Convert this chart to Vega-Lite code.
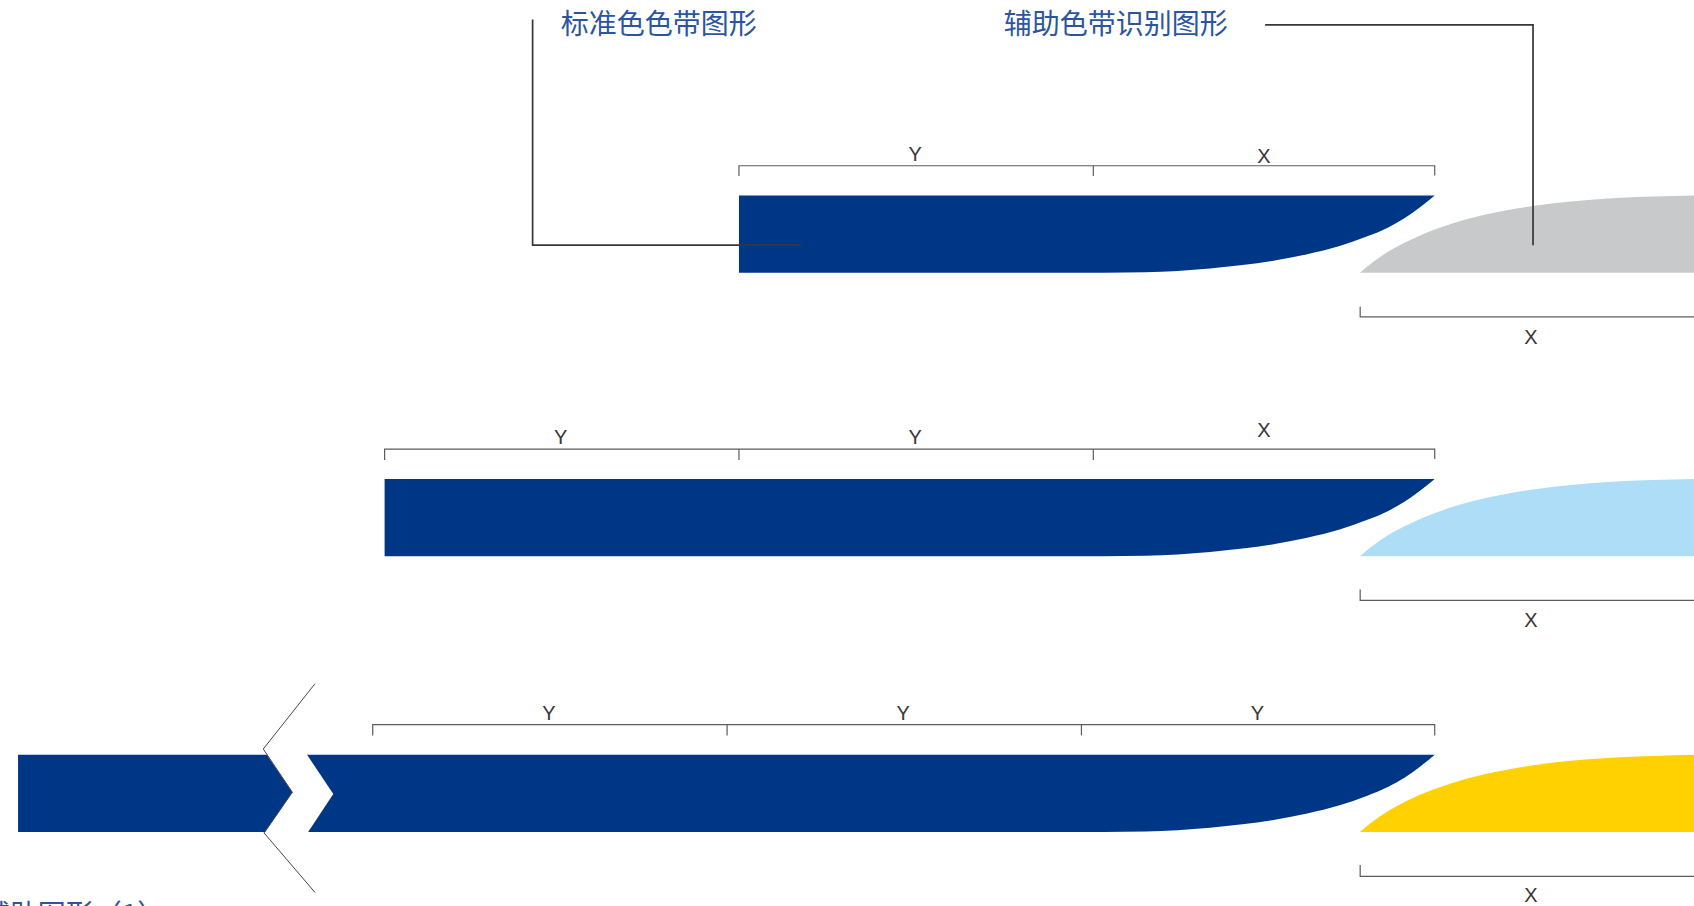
{"$schema":"https://vega.github.io/schema/vega-lite/v6.json","width":1694,"height":906,"autosize":"none","padding":0,"background":"#ffffff","config":{"view":{"stroke":null}},
"datasets":{
"bands":[
{"s":"b1","k":"navy","x":684,"t":181,"b":252.5},{"s":"b1","k":"navy","x":1021,"t":181,"b":252.5},{"s":"b1","k":"navy","x":1060,"t":181,"b":252.1},{"s":"b1","k":"navy","x":1090,"t":181,"b":250.9},{"s":"b1","k":"navy","x":1120,"t":181,"b":248.7},{"s":"b1","k":"navy","x":1150,"t":181,"b":245.5},{"s":"b1","k":"navy","x":1180,"t":181,"b":241.2},{"s":"b1","k":"navy","x":1210,"t":181,"b":235.4},{"s":"b1","k":"navy","x":1240,"t":181,"b":227.8},{"s":"b1","k":"navy","x":1265,"t":181,"b":219.1},{"s":"b1","k":"navy","x":1285,"t":181,"b":210.6},{"s":"b1","k":"navy","x":1300,"t":181,"b":202.2},{"s":"b1","k":"navy","x":1315,"t":181,"b":191.5},{"s":"b1","k":"navy","x":1328,"t":181,"b":181},
{"s":"b2","k":"navy","x":356,"t":443.5,"b":515},{"s":"b2","k":"navy","x":1021,"t":443.5,"b":515},{"s":"b2","k":"navy","x":1060,"t":443.5,"b":514.6},{"s":"b2","k":"navy","x":1090,"t":443.5,"b":513.4},{"s":"b2","k":"navy","x":1120,"t":443.5,"b":511.2},{"s":"b2","k":"navy","x":1150,"t":443.5,"b":508},{"s":"b2","k":"navy","x":1180,"t":443.5,"b":503.7},{"s":"b2","k":"navy","x":1210,"t":443.5,"b":497.9},{"s":"b2","k":"navy","x":1240,"t":443.5,"b":490.3},{"s":"b2","k":"navy","x":1265,"t":443.5,"b":481.6},{"s":"b2","k":"navy","x":1285,"t":443.5,"b":473.1},{"s":"b2","k":"navy","x":1300,"t":443.5,"b":464.7},{"s":"b2","k":"navy","x":1315,"t":443.5,"b":454},{"s":"b2","k":"navy","x":1328,"t":443.5,"b":443.5},
{"s":"b3","k":"navy","x":284,"t":699,"b":770.4},{"s":"b3","k":"navy","x":1021,"t":699,"b":770.4},{"s":"b3","k":"navy","x":1060,"t":699,"b":770},{"s":"b3","k":"navy","x":1090,"t":699,"b":768.8},{"s":"b3","k":"navy","x":1120,"t":699,"b":766.6},{"s":"b3","k":"navy","x":1150,"t":699,"b":763.4},{"s":"b3","k":"navy","x":1180,"t":699,"b":759.1},{"s":"b3","k":"navy","x":1210,"t":699,"b":753.3},{"s":"b3","k":"navy","x":1240,"t":699,"b":745.7},{"s":"b3","k":"navy","x":1265,"t":699,"b":737.1},{"s":"b3","k":"navy","x":1285,"t":699,"b":728.6},{"s":"b3","k":"navy","x":1300,"t":699,"b":720.2},{"s":"b3","k":"navy","x":1315,"t":699,"b":709.5},{"s":"b3","k":"navy","x":1328,"t":699,"b":699},
{"s":"c1","k":"gray","x":1258.8,"t":252.5,"b":252.5},{"s":"c1","k":"gray","x":1270,"t":243.3,"b":252.5},{"s":"c1","k":"gray","x":1285,"t":233,"b":252.5},{"s":"c1","k":"gray","x":1300,"t":224.8,"b":252.5},{"s":"c1","k":"gray","x":1315,"t":217.8,"b":252.5},{"s":"c1","k":"gray","x":1345,"t":206.8,"b":252.5},{"s":"c1","k":"gray","x":1375,"t":198.7,"b":252.5},{"s":"c1","k":"gray","x":1405,"t":192.9,"b":252.5},{"s":"c1","k":"gray","x":1438,"t":188.2,"b":252.5},{"s":"c1","k":"gray","x":1470,"t":185.2,"b":252.5},{"s":"c1","k":"gray","x":1500,"t":183.2,"b":252.5},{"s":"c1","k":"gray","x":1530,"t":182,"b":252.5},{"s":"c1","k":"gray","x":1568,"t":181,"b":252.5},
{"s":"c2","k":"sky","x":1258.8,"t":515,"b":515},{"s":"c2","k":"sky","x":1270,"t":505.8,"b":515},{"s":"c2","k":"sky","x":1285,"t":495.5,"b":515},{"s":"c2","k":"sky","x":1300,"t":487.3,"b":515},{"s":"c2","k":"sky","x":1315,"t":480.3,"b":515},{"s":"c2","k":"sky","x":1345,"t":469.3,"b":515},{"s":"c2","k":"sky","x":1375,"t":461.2,"b":515},{"s":"c2","k":"sky","x":1405,"t":455.4,"b":515},{"s":"c2","k":"sky","x":1438,"t":450.7,"b":515},{"s":"c2","k":"sky","x":1470,"t":447.7,"b":515},{"s":"c2","k":"sky","x":1500,"t":445.7,"b":515},{"s":"c2","k":"sky","x":1530,"t":444.5,"b":515},{"s":"c2","k":"sky","x":1568,"t":443.5,"b":515},
{"s":"c3","k":"gold","x":1258.8,"t":770.4,"b":770.4},{"s":"c3","k":"gold","x":1270,"t":761.3,"b":770.4},{"s":"c3","k":"gold","x":1285,"t":751,"b":770.4},{"s":"c3","k":"gold","x":1300,"t":742.8,"b":770.4},{"s":"c3","k":"gold","x":1315,"t":735.8,"b":770.4},{"s":"c3","k":"gold","x":1345,"t":724.8,"b":770.4},{"s":"c3","k":"gold","x":1375,"t":716.7,"b":770.4},{"s":"c3","k":"gold","x":1405,"t":710.9,"b":770.4},{"s":"c3","k":"gold","x":1438,"t":706.2,"b":770.4},{"s":"c3","k":"gold","x":1470,"t":703.2,"b":770.4},{"s":"c3","k":"gold","x":1500,"t":701.2,"b":770.4},{"s":"c3","k":"gold","x":1530,"t":700,"b":770.4},{"s":"c3","k":"gold","x":1568,"t":699,"b":770.4}
],
"leftpiece":[
{"y":699,"x":16.7,"x2":247},{"y":733.7,"x":16.7,"x2":270.6},{"y":770.4,"x":16.7,"x2":245.5}
],
"notch":[
{"y":698,"x":277,"x2":283.6},{"y":735.2,"x":277,"x2":308.5},{"y":771.5,"x":277,"x2":284.6}
],
"leaders":[
{"id":"a","o":1,"x":493,"y":18},{"id":"a","o":2,"x":493,"y":227},{"id":"a","o":3,"x":742,"y":227},
{"id":"b","o":1,"x":1171,"y":23},{"id":"b","o":2,"x":1419,"y":23},{"id":"b","o":3,"x":1419,"y":227}
],
"brackets":[
{"id":"r1","o":1,"x":684,"y":163},{"id":"r1","o":2,"x":684,"y":153.5},{"id":"r1","o":3,"x":1328,"y":153.5},{"id":"r1","o":4,"x":1328,"y":162.5},
{"id":"r1t","o":1,"x":1012,"y":153.5},{"id":"r1t","o":2,"x":1012,"y":163},
{"id":"r2","o":1,"x":356,"y":426},{"id":"r2","o":2,"x":356,"y":416},{"id":"r2","o":3,"x":1328,"y":416},{"id":"r2","o":4,"x":1328,"y":425},
{"id":"r2t","o":1,"x":684,"y":416},{"id":"r2t","o":2,"x":684,"y":426},
{"id":"r2u","o":1,"x":1012,"y":416},{"id":"r2u","o":2,"x":1012,"y":426},
{"id":"r3","o":1,"x":345,"y":681},{"id":"r3","o":2,"x":345,"y":671},{"id":"r3","o":3,"x":1328,"y":671},{"id":"r3","o":4,"x":1328,"y":681},
{"id":"r3t","o":1,"x":673,"y":671},{"id":"r3t","o":2,"x":673,"y":681},
{"id":"r3u","o":1,"x":1001,"y":671},{"id":"r3u","o":2,"x":1001,"y":681},
{"id":"l1","o":1,"x":1259,"y":284},{"id":"l1","o":2,"x":1259,"y":293.5},{"id":"l1","o":3,"x":1568,"y":293.5},
{"id":"l2","o":1,"x":1259,"y":546},{"id":"l2","o":2,"x":1259,"y":556},{"id":"l2","o":3,"x":1568,"y":556},
{"id":"l3","o":1,"x":1259,"y":801},{"id":"l3","o":2,"x":1259,"y":811.5},{"id":"l3","o":3,"x":1568,"y":811.5}
],
"breaks":[
{"id":"z","o":1,"x":291.6,"y":633.1},{"id":"z","o":2,"x":243.7,"y":693.6},{"id":"z","o":3,"x":270.6,"y":733.7},{"id":"z","o":4,"x":244.4,"y":771.3},{"id":"z","o":5,"x":291.6,"y":826.5}
],
"dims":[
{"t":"Y","x":847,"y":144},{"t":"X","x":1170,"y":145},{"t":"X","x":1417,"y":313},
{"t":"Y","x":519,"y":406},{"t":"Y","x":847,"y":406},{"t":"X","x":1170,"y":399},{"t":"X","x":1417,"y":575},
{"t":"Y","x":508,"y":661.5},{"t":"Y","x":836,"y":661.5},{"t":"Y","x":1164,"y":661.5},{"t":"X","x":1417,"y":830}
],
"heads":[
{"t":"标准色色带图形","x":519,"y":24.5},{"t":"辅助色带识别图形","x":929,"y":24.5},{"t":"辅助图形（1）","x":-17,"y":849}
]},
"layer":[
{"data":{"name":"bands"},"mark":{"type":"area","interpolate":"monotone"},"encoding":{
"x":{"field":"x","type":"quantitative","scale":{"domain":[0,1568],"nice":false,"zero":false},"axis":null},
"y":{"field":"t","type":"quantitative","scale":{"domain":[839,0],"nice":false,"zero":false},"axis":null},
"y2":{"field":"b"},
"detail":{"field":"s"},
"color":{"field":"k","type":"nominal","scale":{"domain":["navy","gray","sky","gold"],"range":["#003686","#C8C9CB","#AEDEF7","#FFD100"]},"legend":null}}},
{"data":{"name":"leftpiece"},"mark":{"type":"area","orient":"horizontal","color":"#003686"},"encoding":{
"x":{"field":"x","type":"quantitative","axis":null},"x2":{"field":"x2"},
"y":{"field":"y","type":"quantitative","axis":null}}},
{"data":{"name":"notch"},"mark":{"type":"area","orient":"horizontal","color":"#ffffff"},"encoding":{
"x":{"field":"x","type":"quantitative","axis":null},"x2":{"field":"x2"},
"y":{"field":"y","type":"quantitative","axis":null}}},
{"data":{"name":"brackets"},"mark":{"type":"line","color":"#5f5b5b","strokeWidth":1.2},"encoding":{
"x":{"field":"x","type":"quantitative","axis":null},"y":{"field":"y","type":"quantitative","axis":null},"detail":{"field":"id"},"order":{"field":"o","type":"quantitative"}}},
{"data":{"name":"breaks"},"mark":{"type":"line","color":"#4a4546","strokeWidth":1},"encoding":{
"x":{"field":"x","type":"quantitative","axis":null},"y":{"field":"y","type":"quantitative","axis":null},"detail":{"field":"id"},"order":{"field":"o","type":"quantitative"}}},
{"data":{"name":"leaders"},"mark":{"type":"line","color":"#3a3536","strokeWidth":1.7},"encoding":{
"x":{"field":"x","type":"quantitative","axis":null},"y":{"field":"y","type":"quantitative","axis":null},"detail":{"field":"id"},"order":{"field":"o","type":"quantitative"}}},
{"data":{"name":"dims"},"mark":{"type":"text","font":"Liberation Sans","fontSize":20,"color":"#3a3536","baseline":"middle","align":"center"},"encoding":{
"x":{"field":"x","type":"quantitative","axis":null},"y":{"field":"y","type":"quantitative","axis":null},"text":{"field":"t"}}},
{"data":{"name":"heads"},"mark":{"type":"text","font":"Noto Sans CJK SC","fontSize":28,"color":"#2B55A0","baseline":"middle","align":"left"},"encoding":{
"x":{"field":"x","type":"quantitative","axis":null},"y":{"field":"y","type":"quantitative","axis":null},"text":{"field":"t"}}}
]}
